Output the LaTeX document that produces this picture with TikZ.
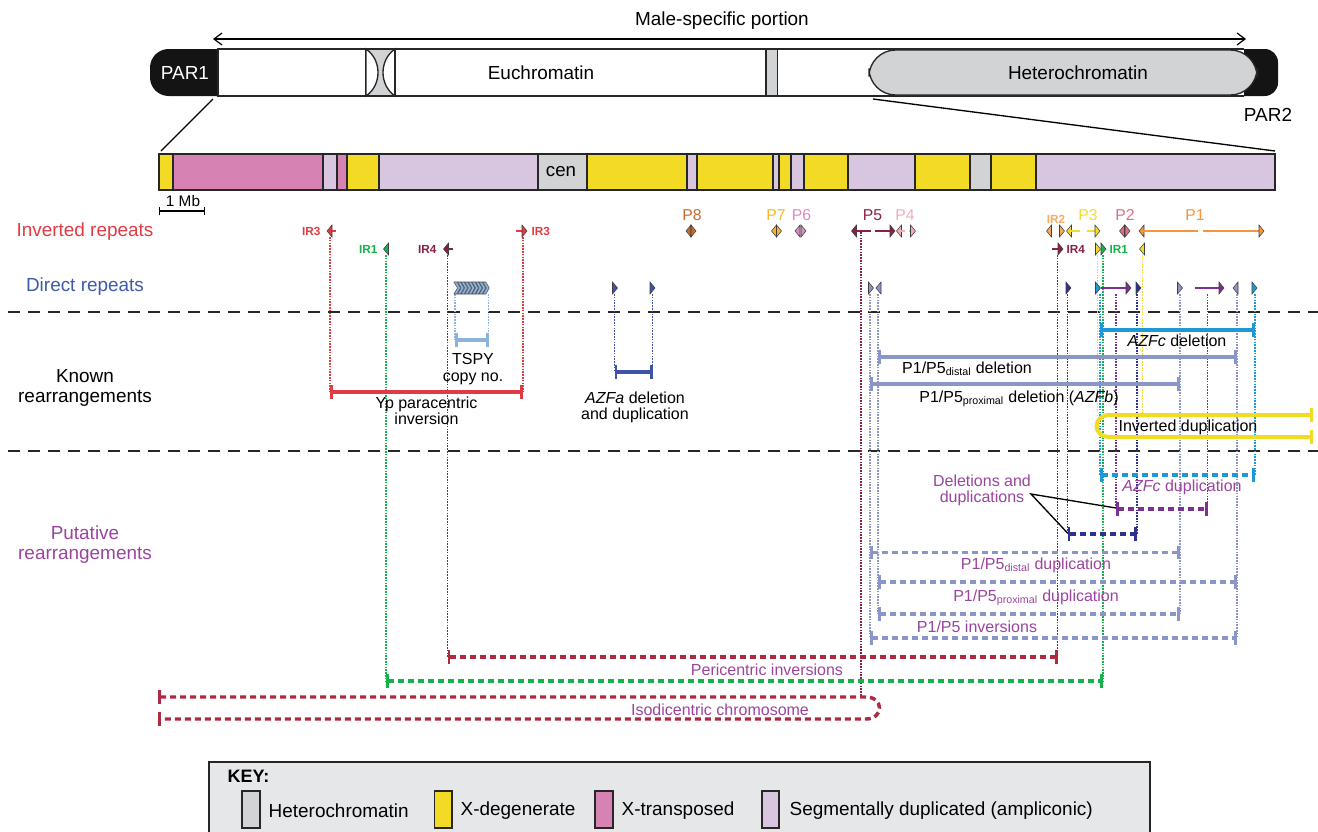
\documentclass[tikz,border=0pt]{standalone}
\usepackage{fontspec}
\setmainfont{Liberation Sans}
\usetikzlibrary{arrows.meta}
\definecolor{xdeg}{HTML}{F3DA24}
\definecolor{xtr}{HTML}{D683B4}
\definecolor{ampl}{HTML}{D8C6E0}
\definecolor{hetg}{HTML}{D1D3D4}
\definecolor{keybg}{HTML}{E6E7E8}
\definecolor{irred}{HTML}{E03A43}
\definecolor{irgreen}{HTML}{16B14B}
\definecolor{maroon}{HTML}{8A1F48}
\definecolor{crim}{HTML}{AE2A40}
\definecolor{tspyb}{HTML}{8CB2E0}
\definecolor{azfa}{HTML}{3D54A6}
\definecolor{azfc}{HTML}{1D9AD6}
\definecolor{pfive}{HTML}{8A95C8}
\definecolor{dblue}{HTML}{2D3190}
\definecolor{purp}{HTML}{7C3092}
\definecolor{ptext}{HTML}{9B449E}
\definecolor{drtext}{HTML}{3F5AAA}
\definecolor{pone}{HTML}{F7943C}
\definecolor{peight}{HTML}{C76A2C}
\definecolor{pseven}{HTML}{F6B52A}
\definecolor{psix}{HTML}{D98CC0}
\definecolor{pfour}{HTML}{F2AEB8}
\definecolor{ptwo}{HTML}{E06B84}
\definecolor{irtwo}{HTML}{F8A95E}
\definecolor{pthree}{HTML}{F5DC2B}
\newcommand\trR[3]{\filldraw[fill=#3,draw=black!75,line width=0.4pt] ({#1-2.5},{#2-6}) -- ({#1+2.5},{#2}) -- ({#1-2.5},{#2+6}) -- cycle;}
\newcommand\trL[3]{\filldraw[fill=#3,draw=black!75,line width=0.4pt] ({#1+2.5},{#2-6}) -- ({#1-2.5},{#2}) -- ({#1+2.5},{#2+6}) -- cycle;}
\newcommand\bandseg[3]{\filldraw[draw=black!85,line width=1.4pt,fill=#3] (#1,154) rectangle (#2,190);}
\tikzset{
 big/.style={font=\fontsize{14.2}{15}\selectfont},
 mid/.style={font=\fontsize{12}{12.2}\selectfont, align=center},
 irl/.style={font=\bfseries\fontsize{8.8}{10}\selectfont},
 plab/.style={font=\fontsize{11.8}{13}\selectfont},
 vdot/.style={line width=1.3pt, dash pattern=on 1.2pt off 0.9pt},
 sbar/.style={line width=2.6pt, {Bar[width=10pt,line width=2pt]}-{Bar[width=10pt,line width=2pt]}},
 dbar/.style={line width=2.6pt, dash pattern=on 4.5pt off 3pt, {Bar[width=10pt,line width=2pt]}-{Bar[width=10pt,line width=2pt]}},
 sepline/.style={line width=1.5pt, dash pattern=on 9pt off 6pt, black!85},
 rep/.style={line width=1.2pt},
}
\begin{document}
\begin{tikzpicture}[x=0.75pt,y=-0.75pt]
\useasboundingbox (0,0) rectangle (1318,832);
% ---------- top chromosome ----------
\node[big] (msp) at (722,21) {Male-specific portion};
\coordinate (mspl) at (213,39);
\coordinate (mspr) at (1246,39);
\draw[line width=0.9pt,{Straight Barb[length=6pt,width=9pt]}-{Straight Barb[length=6pt,width=9pt]}] (mspl) -- (mspr);
\fill[black!92,rounded corners=14] (150,49) rectangle (240,96);
\fill[black!92,rounded corners=10] (1200,49) rectangle (1278,96);
\filldraw[fill=white,draw=black!85,line width=1pt] (218,49) rectangle (366,96);
\filldraw[fill=hetg,draw=black!85,line width=1pt] (366,49) rectangle (395,96);
\filldraw[fill=white,draw=black!85,line width=1pt] (366,49) .. controls (382,60) and (382,85) .. (366,96) -- cycle;
\filldraw[fill=white,draw=black!85,line width=1pt] (395,49) .. controls (379,60) and (379,85) .. (395,96) -- cycle;
\filldraw[fill=white,draw=black!85,line width=1pt] (395,49) rectangle (766,96);
\filldraw[fill=hetg,draw=black!85,line width=1pt] (766,49) rectangle (778,96);
\fill[white] (778,49) rectangle (1244,96);
\draw[black!85,line width=1pt] (778,49) -- (1244,49) (778,96) -- (1244,96);
\filldraw[fill=hetg,draw=black!85,line width=1pt,rounded corners=20] (869,50) rectangle (1257,95);
\node[big,text=white] (par1) at (185,73) {PAR1};
\node[big] (euc) at (541,73) {Euchromatin};
\node[big] (het) at (1078,73) {Heterochromatin};
\node[big] (par2) at (1268,115) {PAR2};
\coordinate (zl1) at (213,99); \coordinate (zl2) at (161,151);
\coordinate (zr1) at (873,99); \coordinate (zr2) at (1275,151);
\draw[line width=1pt] (zl1) -- (zl2);
\draw[line width=1pt] (zr1) -- (zr2);
% ---------- band row ----------
\bandseg{159}{173}{xdeg}
\bandseg{173}{323}{xtr}
\bandseg{323}{337}{ampl}
\bandseg{337}{347}{xtr}
\bandseg{347}{379}{xdeg}
\bandseg{379}{538}{ampl}
\bandseg{538}{587}{hetg}
\bandseg{587}{687}{xdeg}
\bandseg{687}{697}{ampl}
\bandseg{697}{773}{xdeg}
\bandseg{773}{779}{ampl}
\bandseg{779}{791}{xdeg}
\bandseg{791}{804}{ampl}
\bandseg{804}{848}{xdeg}
\bandseg{848}{915}{ampl}
\bandseg{915}{970}{xdeg}
\bandseg{970}{991}{hetg}
\bandseg{991}{1036}{xdeg}
\bandseg{1036}{1275}{ampl}
\node[font=\fontsize{14}{15}\selectfont] (cen) at (561,172) {cen};
\draw[line width=1pt,{Bar[width=6pt,line width=1pt]}-{Bar[width=6pt,line width=1pt]}] (159,211) -- (205,211);
\node[font=\fontsize{11.5}{12}\selectfont] (mb) at (183,201) {1 Mb};
% ---------- left labels ----------
\node[big,text=irred] (lir) at (85,232) {Inverted repeats};
\node[big,text=drtext] (ldr) at (85,287) {Direct repeats};
\node[big,align=center,font=\fontsize{14.2}{15}\selectfont] (lkn) at (85,388) {Known\\rearrangements};
\node[big,align=center,text=ptext,font=\fontsize{14.2}{15}\selectfont] (lpu) at (85,545) {Putative\\rearrangements};
\draw[sepline] (8,312) -- (1318,312);
\draw[sepline] (8,451) -- (1318,451);
% ---------- vertical dotted lines ----------
\draw[vdot,irred] (330,237) -- (330,392);
\draw[vdot,irred] (523,237) -- (523,392);
\draw[vdot,irgreen] (386,255) -- (386,681);
\draw[vdot,maroon] (447.5,255) -- (447.5,657);
\draw[vdot,tspyb] (455,294) -- (455,340);
\draw[vdot,tspyb] (488.5,294) -- (488.5,340);
\draw[vdot,azfa] (614.5,294) -- (614.5,372);
\draw[vdot,azfa] (652.5,294) -- (652.5,372);
\draw[vdot,maroon] (861,232) -- (861,697);
\draw[vdot,pfive] (870,294) -- (870,638);
\draw[vdot,pfive] (878,294) -- (878,614);
\draw[vdot,maroon] (1057.5,255) -- (1057.5,657);
\draw[vdot,dblue] (1067.5,294) -- (1067.5,534);
\draw[vdot,pthree] (1097.5,255) -- (1097.5,416);
\draw[vdot,azfc] (1100,294) -- (1100,475);
\draw[vdot,irgreen] (1103,255) -- (1103,681);
\draw[vdot,purp] (1116,294) -- (1116,509);
\draw[vdot,dblue] (1137,294) -- (1137,534);
\draw[vdot,pthree] (1142.5,255) -- (1142.5,416);
\draw[vdot,pfive] (1180,294) -- (1180,614);
\draw[vdot,purp] (1207.5,294) -- (1207.5,509);
\draw[vdot,pfive] (1237,294) -- (1237,638);
\draw[vdot,azfc] (1255,294) -- (1255,475);
% ---------- inverted repeats row 1 ----------
\draw[rep,irred] (331,231) -- (336,231);
\trL{329.5}{231}{irred}
\node[irl,text=irred,anchor=east] (ir3a) at (325,231) {IR3};
\draw[rep,irred] (516,231) -- (522,231);
\trR{524.5}{231}{irred}
\node[irl,text=irred,anchor=west] (ir3b) at (527,231) {IR3};
\trL{688.5}{231}{peight}\trR{693.5}{231}{peight}
\trL{774}{231}{pseven}\trR{779}{231}{pseven}
\trL{797.5}{231}{psix}\trR{803.5}{231}{psix}
\trL{854}{231}{maroon}
\draw[rep,maroon] (856,231) -- (871,231) (875,231) -- (890,231);
\trR{892.5}{231}{maroon}
\trL{899}{231}{pfour}
\draw[rep,pfour,dashed] (901,231) -- (911,231);
\trR{913}{231}{pfour}
\trL{1049}{231}{irtwo}\trR{1062}{231}{irtwo}
\trL{1069}{231}{pthree}
\draw[rep,pthree] (1071,231) -- (1080,231) (1087,231) -- (1096,231);
\trR{1097.5}{231}{pthree}
\trL{1122}{231}{ptwo}\trR{1127.5}{231}{ptwo}
\trL{1141.5}{231}{pone}
\draw[rep,pone] (1143,231) -- (1198,231) (1203,231) -- (1260,231);
\trR{1261.5}{231}{pone}
\node[plab,text=peight] (lp8) at (692,215) {P8};
\node[plab,text=pseven] (lp7) at (776,215) {P7};
\node[plab,text=psix] (lp6) at (801.5,215) {P6};
\node[plab,text=maroon] (lp5) at (872.5,215) {P5};
\node[plab,text=pfour] (lp4) at (905,215) {P4};
\node[irl,text=irtwo] (lir2) at (1056,219) {IR2};
\node[plab,text=pthree] (lp3) at (1088,215) {P3};
\node[plab,text=ptwo] (lp2) at (1125,215) {P2};
\node[plab,text=pone] (lp1) at (1195,215) {P1};
% ---------- inverted repeats row 2 ----------
\trL{386}{249}{irgreen}
\node[irl,text=irgreen,anchor=east] (ir1a) at (382,249) {IR1};
\draw[rep,maroon] (447,249) -- (453,249);
\trL{446}{249}{maroon}
\node[irl,text=maroon,anchor=east] (ir4a) at (441,249) {IR4};
\draw[rep,maroon] (1052,249) -- (1058,249);
\trR{1060.5}{249}{maroon}
\node[irl,text=maroon,anchor=west] (ir4b) at (1062,249) {IR4};
\trR{1098}{249}{pthree}
\trR{1103.5}{249}{irgreen}
\node[irl,text=irgreen,anchor=west] (ir1b) at (1105,249) {IR1};
\trL{1142}{249}{pthree}
% ---------- direct repeats ----------
\foreach \i in {0,...,8}{
 \filldraw[fill=tspyb,draw=black!70,line width=0.4pt] ({454+\i*3.6},282) -- ({457+\i*3.6},282) -- ({460.5+\i*3.6},288) -- ({457+\i*3.6},294) -- ({454+\i*3.6},294) -- ({457.5+\i*3.6},288) -- cycle;
}
\trR{615}{288}{azfa}
\trR{652.5}{288}{azfa}
\trR{871}{288}{pfive}
\trL{878.5}{288}{pfive}
\trR{1068.5}{288}{dblue}
\trR{1098}{288}{azfc}
\draw[rep,purp] (1101,288) -- (1127,288);
\trR{1128.5}{288}{purp}
\trR{1138.5}{288}{dblue}
\trR{1180}{288}{pfive}
\draw[rep,purp] (1195,288) -- (1220,288);
\trR{1221.5}{288}{purp}
\trL{1235.5}{288}{pfive}
\trR{1254.5}{288}{azfc}
% ---------- known rearrangements ----------
\draw[sbar,irred] (330,392) -- (523,392);
\node[mid] (yp) at (426.5,411) {Yp paracentric\\inversion};
\draw[sbar,tspyb] (455,340) -- (488.5,340);
\node[mid,font=\fontsize{12}{12.8}\selectfont] (tspy) at (473,369) {TSPY\\copy no.};
\draw[sbar,azfa] (614.5,372) -- (652.5,372);
\node[mid] (azfa) at (635,407) {\textit{AZFa} deletion\\and duplication};
\draw[sbar,azfc] (1100,330) -- (1255,330);
\node[mid] (azfcd) at (1177,341) {\textit{AZFc} deletion};
\draw[sbar,pfive] (878,357) -- (1237,357);
\node[mid] (pdd) at (967,369) {P1/P5\textsubscript{distal} deletion};
\draw[sbar,pfive] (870,384) -- (1180,384);
\node[mid] (ppd) at (1019,399) {P1/P5\textsubscript{proximal} deletion (\textit{AZFb})};
\draw[line width=3pt,xdeg,{Bar[width=10pt,line width=2pt]}-{Bar[width=10pt,line width=2pt]}] (1313,415) -- (1110,415) .. controls (1092,415) and (1092,437) .. (1110,437) -- (1313,437);
\node[mid] (invd) at (1188,427) {Inverted duplication};
% ---------- putative rearrangements ----------
\draw[dbar,azfc] (1100,475) -- (1255,475);
\node[mid,text=ptext] (azfcdup) at (1182,487) {\textit{AZFc} duplication};
\node[mid,text=ptext,font=\fontsize{12}{11.8}\selectfont] (deldup) at (982,490) {Deletions and\\duplications};
\draw[dbar,purp] (1116,509) -- (1207.5,509);
\draw[dbar,dblue] (1067.5,534) -- (1137,534);
\coordinate (ptr) at (1031,494);
\coordinate (ptra) at (1116,508);
\coordinate (ptrb) at (1067.5,533);
\draw[line width=1pt] (ptra) -- (ptr) -- (ptrb);
\draw[dbar,pfive] (870,552.5) -- (1180,552.5);
\node[mid,text=ptext] (pddup) at (1036,565) {P1/P5\textsubscript{distal} duplication};
\draw[dbar,pfive] (878,582) -- (1237,582);
\node[mid,text=ptext] (ppdup) at (1036,598) {P1/P5\textsubscript{proximal} duplication};
\draw[dbar,pfive] (878,614) -- (1180,614);
\node[mid,text=ptext] (pinv) at (977,627) {P1/P5 inversions};
\draw[dbar,pfive] (870,638) -- (1237,638);
\draw[dbar,crim] (447.5,657) -- (1057.5,657);
\node[mid,text=ptext] (peri) at (767,670) {Pericentric inversions};
\draw[dbar,irgreen] (386,681) -- (1103,681);
\draw[dbar,crim] (158,697) -- (866,697) .. controls (884,697) and (884,719) .. (866,719) -- (158,719);
\node[mid,text=ptext] (iso) at (720,710) {Isodicentric chromosome};
% ---------- key ----------
\filldraw[fill=keybg,draw=black!85,line width=1.5pt] (209,762) rectangle (1150,850);
\node[font=\bfseries\fontsize{13.5}{14}\selectfont,anchor=west] (key) at (223,776) {KEY:};
\filldraw[fill=hetg,draw=black!85,line width=1pt] (242,791) rectangle (260,828);
\node[big,anchor=west] (k1) at (264,811) {Heterochromatin};
\filldraw[fill=xdeg,draw=black!85,line width=1pt] (434.5,791) rectangle (452,828);
\node[big,anchor=west] (k2) at (456,811) {X-degenerate};
\filldraw[fill=xtr,draw=black!85,line width=1pt] (595,791) rectangle (613,828);
\node[big,anchor=west] (k3) at (617,811) {X-transposed};
\filldraw[fill=ampl,draw=black!85,line width=1pt] (762,791) rectangle (779,828);
\node[big,anchor=west] (k4) at (785,811) {Segmentally duplicated (ampliconic)};
\end{tikzpicture}
\end{document}
